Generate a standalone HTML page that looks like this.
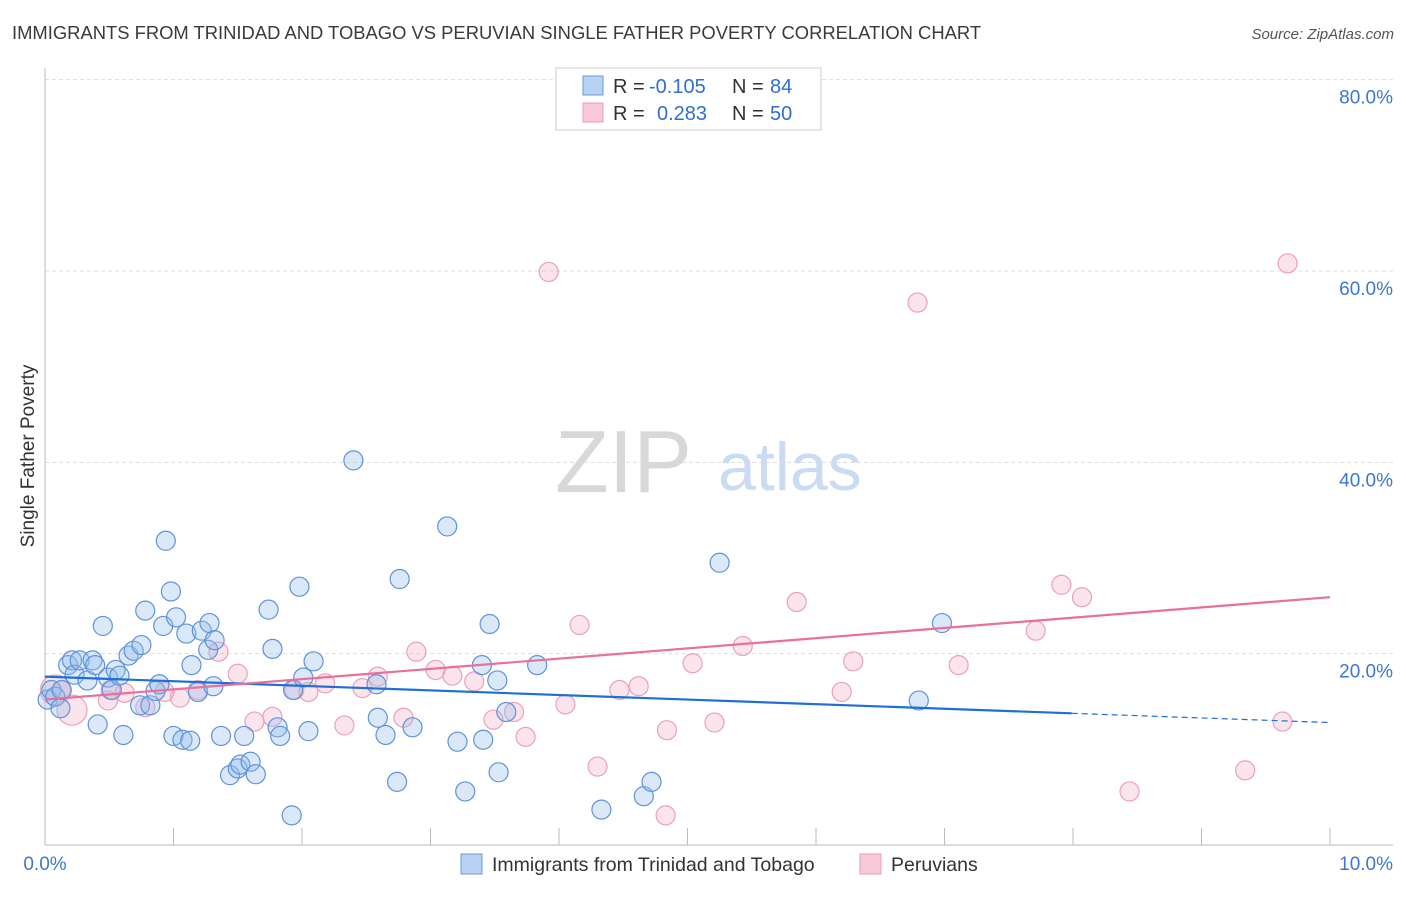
<!DOCTYPE html>
<html><head><meta charset="utf-8"><style>
body{margin:0;background:#fff;font-family:"Liberation Sans",sans-serif;}
svg text{font-family:"Liberation Sans",sans-serif;}
</style></head><body>
<svg id="chart" width="1406" height="892" xmlns="http://www.w3.org/2000/svg">
<text x="12" y="39" font-size="18.4" fill="#3a3a3a">IMMIGRANTS FROM TRINIDAD AND TOBAGO VS PERUVIAN SINGLE FATHER POVERTY CORRELATION CHART</text>
<text x="1394" y="39" font-size="15" fill="#555" text-anchor="end" font-style="italic">Source: ZipAtlas.com</text>
<text x="34" y="456" font-size="19" fill="#333" text-anchor="middle" transform="rotate(-90 34 456)">Single Father Poverty</text>
<g>
<text x="555" y="492" font-size="88" fill="#d8d8d8" font-family="Liberation Serif, serif">ZIP</text>
<text x="718" y="490" font-size="68" fill="#c9dcf3">atlas</text>
</g>
<g id="grid"></g>
<g id="axes"></g>
<g id="pts"></g>
<g id="lines"></g>
<g>
<rect x="556" y="68" width="265" height="62" fill="#fff" stroke="#ccc"/>
<rect x="583" y="76" width="20" height="19" fill="#b9d2f3" stroke="#6a9ad9"/>
<rect x="583" y="103" width="20" height="19" fill="#f9c9d8" stroke="#e8a0b8"/>
<text x="613" y="93" font-size="20" fill="#333">R =</text>
<text x="649" y="93" font-size="20" fill="#2f6fd0">-0.105</text>
<text x="732" y="93" font-size="20" fill="#333">N =</text>
<text x="770" y="93" font-size="20" fill="#2f6fd0">84</text>
<text x="613" y="120" font-size="20" fill="#333">R =</text>
<text x="657" y="120" font-size="20" fill="#2f6fd0">0.283</text>
<text x="732" y="120" font-size="20" fill="#333">N =</text>
<text x="770" y="120" font-size="20" fill="#2f6fd0">50</text>
</g>
<g>
<rect x="461" y="854" width="21" height="20" fill="#b9d2f3" stroke="#6a9ad9"/>
<text x="492" y="871" font-size="19.5" fill="#333">Immigrants from Trinidad and Tobago</text>
<rect x="860" y="854" width="21" height="20" fill="#f9c9d8" stroke="#e8a0b8"/>
<text x="891" y="871" font-size="19.5" fill="#333">Peruvians</text>
</g>
</svg>
<script>
const yTicks=[20,40,60,80];
const xTickLabels=["0.0%","10.0%"];
const blueX=[0.02,0.05,0.08,0.12,0.13,0.18,0.21,0.23,0.27,0.33,0.37,0.39,0.41,0.45,0.49,0.52,0.55,0.58,0.61,0.65,0.69,0.75,0.74,0.78,0.82,0.86,0.89,0.92,0.94,0.98,1.00,1.02,1.07,1.10,1.13,1.14,1.19,1.22,1.27,1.28,1.32,1.31,1.37,1.44,1.50,1.52,1.55,1.60,1.64,1.74,1.77,1.81,1.83,1.92,1.93,1.98,2.01,2.05,2.09,2.40,2.58,2.59,2.65,2.74,2.76,2.86,3.13,3.21,3.27,3.40,3.41,3.46,3.52,3.53,3.59,3.83,4.33,4.66,4.72,5.25,6.80,6.98];
const blueY=[15.2,16.2,15.5,14.3,16.2,18.8,19.3,17.8,19.3,17.2,19.3,18.8,12.6,22.9,17.5,16.2,18.3,17.7,11.5,19.8,20.3,20.9,14.6,24.5,14.6,16.1,16.8,22.9,31.8,26.5,11.4,23.8,11.0,22.1,10.9,18.8,16.0,22.4,20.4,23.2,21.4,16.6,11.4,7.3,8.0,8.4,11.4,8.7,7.4,24.6,20.5,12.3,11.4,3.1,16.2,27.0,17.5,11.9,19.2,40.2,16.8,13.3,11.5,6.6,27.8,12.3,33.3,10.8,5.6,18.8,11.0,23.1,17.2,7.6,13.9,18.8,3.7,5.1,6.6,29.5,15.1,23.2];
const pinkX=[0.08,0.21,0.13,0.49,0.51,0.62,0.78,0.93,1.05,1.19,1.35,1.50,1.63,1.77,1.94,2.05,2.18,2.33,2.47,2.59,2.79,2.89,3.04,3.17,3.34,3.49,3.65,3.74,3.92,4.05,4.16,4.30,4.47,4.62,4.83,4.84,5.04,5.21,5.43,5.85,6.20,6.29,6.79,7.11,7.71,7.91,8.07,8.44,9.34,9.63,9.67];
const pinkY=[16.2,14.1,16.2,15.1,16.2,15.9,14.4,16.0,15.4,16.2,20.2,17.9,12.9,13.4,16.2,16.0,16.9,12.5,16.4,17.6,13.3,20.2,18.3,17.7,17.1,13.1,13.9,11.3,59.9,14.7,23.0,8.2,16.2,16.6,3.1,12.0,19.0,12.8,20.8,25.4,16.0,19.2,56.7,18.8,22.4,27.2,25.9,5.6,7.8,12.9,60.8];
const pinkBig=[0,1];
const blueTrend=[17.6,12.8];const blueSolidEnd=7.99;
const pinkTrend=[15.2,25.9];
const NS="http://www.w3.org/2000/svg";
const X=v=>45+v*128.5, Y=v=>845-v*9.567;
function mk(t,a,p){const e=document.createElementNS(NS,t);for(const k in a)e.setAttribute(k,a[k]);p.appendChild(e);return e;}
const grid=document.getElementById('grid'),axes=document.getElementById('axes'),pts=document.getElementById('pts'),lines=document.getElementById('lines');
yTicks.forEach(t=>{
 const l=mk('line',{x1:45,x2:1393,y1:Y(t),y2:Y(t),stroke:'#ddd','stroke-dasharray':'4 3'},grid);
 
 
 const tx=mk('text',{x:1393,y:Y(t)+24,'font-size':19,fill:'#3a78d4','text-anchor':'end'},grid);
 tx.textContent=t.toFixed(1)+'%';
 
 
});
const ax=mk('line',{x1:45,x2:1393,y1:845,y2:845,stroke:'#bbb'},axes);


const ay=mk('line',{x1:45,x2:45,y1:68,y2:845,stroke:'#bbb'},axes);


for(let k=1;k<=10;k++){const t=mk('line',{x1:X(k),x2:X(k),y1:828,y2:845,stroke:'#bbb'},axes);
 
 }
const xl0=mk('text',{x:45,y:870,'font-size':19,fill:'#3a78d4','text-anchor':'middle'},axes);xl0.textContent=xTickLabels[0];


const xl1=mk('text',{x:1393,y:870,'font-size':19,fill:'#3a78d4','text-anchor':'end'},axes);xl1.textContent=xTickLabels[1];


pinkX.forEach((v,i)=>{const c=mk('circle',{cx:X(v),cy:Y(pinkY[i]),r:pinkBig.includes(i)?15:9.5,fill:'rgba(246,172,198,0.32)',stroke:'#eaa1ba','stroke-width':1.2},pts);
 
 });
blueX.forEach((v,i)=>{const c=mk('circle',{cx:X(v),cy:Y(blueY[i]),r:9.5,fill:'rgba(150,188,236,0.35)',stroke:'#5f93da','stroke-width':1.2},pts);
 
 });
const bAt=x=>blueTrend[0]+(blueTrend[1]-blueTrend[0])*x/10;
const bl=mk('line',{x1:X(0),y1:Y(bAt(0)),x2:X(blueSolidEnd),y2:Y(bAt(blueSolidEnd)),stroke:'#1f6fd6','stroke-width':2.2},lines);


const bd=mk('line',{x1:X(blueSolidEnd),y1:Y(bAt(blueSolidEnd)),x2:X(10),y2:Y(bAt(10)),stroke:'#1f6fd6','stroke-width':1.2,'stroke-dasharray':'6 4'},lines);


const pl=mk('line',{x1:X(0),y1:Y(pinkTrend[0]),x2:X(10),y2:Y(pinkTrend[1]),stroke:'#e8709a','stroke-width':2.2},lines);


</script>
</body></html>
